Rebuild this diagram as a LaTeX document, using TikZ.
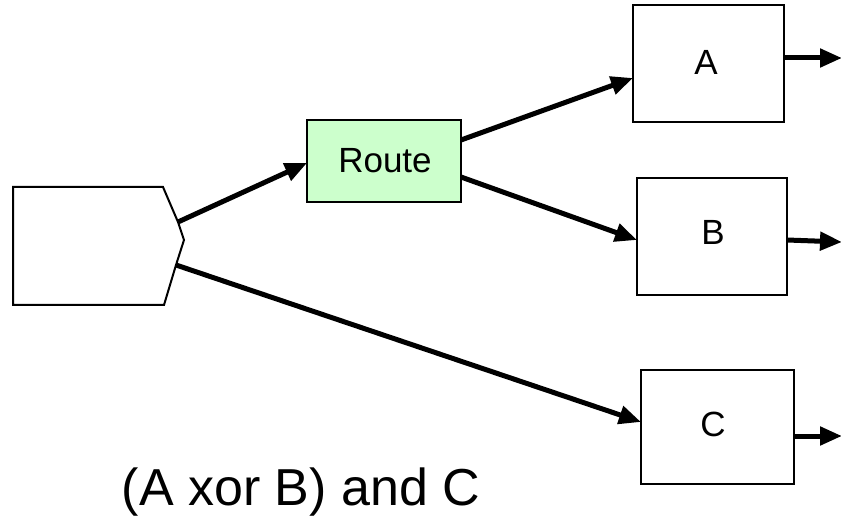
\documentclass[tikz,border=0pt]{standalone}
\usepackage{fontspec}
\setmainfont{Liberation Sans}
\usetikzlibrary{arrows.meta}
\begin{document}
\begin{tikzpicture}[x=1pt,y=-1pt,
  box/.style={draw=black,line width=2pt,fill=white},
  flow/.style={line width=5pt,-{Triangle[length=22pt,width=18pt]}},
  lbl/.style={font=\fontsize{35}{40}\selectfont}]
\useasboundingbox (0,0) rectangle (841,521);
% source shape with a pointed right side
\draw[box,line join=miter] (13,187) -- (163,187) -- (178,222) -- (184,240) -- (176,265) -- (164,305) -- (13,305) -- cycle;
\coordinate (s1) at (178,222);
\coordinate (s2) at (176,265);
% routing step
\draw[box,fill={rgb,255:red,204;green,255;blue,204}] (307,120) rectangle (461,202);
\node[lbl] (route) at (385,161) {Route};
\coordinate (rin) at (307,163);
\coordinate (ra) at (461,140);
\coordinate (rb) at (461,177);
% targets
\draw[box] (633,5) rectangle (784,122);
\node[lbl] (a) at (706,62) {A};
\draw[box] (637,178) rectangle (787,295);
\node[lbl] (b) at (713,232) {B};
\draw[box] (641,370) rectangle (794,484);
\node[lbl] (c) at (713,424) {C};
\coordinate (ain) at (633,78);
\coordinate (bin) at (637,240);
\coordinate (cin) at (641,422);
\coordinate (aout) at (784,58);
\coordinate (bout) at (787,240);
\coordinate (cout) at (794,436);
\coordinate (aend) at (842,58);
\coordinate (bend) at (842,242);
\coordinate (cend) at (842,436);
% connectors
\draw[flow] (s1) -- (rin);
\draw[flow] (s2) -- (cin);
\draw[flow] (ra) -- (ain);
\draw[flow] (rb) -- (bin);
\draw[flow] (aout) -- (aend);
\draw[flow] (bout) -- (bend);
\draw[flow] (cout) -- (cend);
% caption
\node[font=\fontsize{52}{56}\selectfont] (cap) at (301,492) {(A xor B) and C};
\end{tikzpicture}
\end{document}
